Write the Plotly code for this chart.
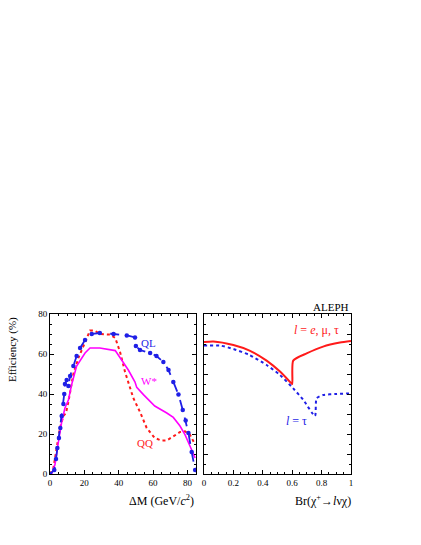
import plotly.graph_objects as go

# ---- Left panel data: efficiency vs Delta M ----
ql_dm = [0, 2.5, 3.5, 4.3, 5.2, 6.0, 6.8, 7.8, 8.3, 8.7, 9.7, 10.7, 11.7, 13.6, 15.5, 17.5, 20.4, 24.3,
         29, 37, 44.7, 49.5, 50, 52.4, 58.3, 62, 66, 69, 71.8, 74.8, 77.3, 79, 80.6, 82.5, 84.5]
ql_eff = [0, 2, 7.5, 13, 18, 23, 29, 35, 40, 45, 47, 44, 49, 54, 59, 63, 67, 70,
          70.5, 70, 69.3, 68.3, 64, 62, 60.5, 59, 56, 52, 46, 39.7, 32, 26.7, 20.5, 11, 2]

qq_dm = [0, 2, 3.9, 5.8, 7.8, 9.3, 10.7, 11.7, 13.6, 16.5, 19.4, 23.3, 26, 29, 35, 38, 40.8, 43.7,
         48.5, 52.4, 56.3, 61, 65, 68, 71.8, 75.7, 78.6, 81.5, 84.5]
qq_eff = [0, 3, 13, 23, 29, 30.5, 36, 41, 50, 58, 64, 71.7, 71.7, 70, 69.7, 68, 61, 51,
          38, 31, 23, 18, 16.7, 16.8, 18.8, 21, 21.3, 19.7, 14.7]

ws_dm = [1, 2.9, 4.9, 6.8, 8.7, 10.7, 12.6, 15.5, 20.4, 23.3, 29, 38, 41.7, 45.6, 49.5, 50.5, 54.4,
         61, 68, 71.8, 75.7, 78.6, 81.5, 84.5]
ws_eff = [0, 4.7, 16, 26, 33, 37, 44.7, 54, 60.5, 63, 63, 61.7, 57, 52, 46, 43.3, 39.7,
          34, 30.5, 28.3, 24, 19.7, 14, 8]

# ---- Right panel data: efficiency vs branching ratio ----
br_all = [0, 0.064, 0.2, 0.31, 0.426, 0.517, 0.59, 0.6, 0.607, 0.698, 0.81, 0.925, 1.0]
eff_all = [66, 66.3, 64.5, 61.7, 56.7, 51.2, 45.7, 45, 56.7, 60.3, 63.7, 65.7, 66.5]

br_tau = [0, 0.11, 0.2, 0.31, 0.426, 0.517, 0.607, 0.676, 0.755, 0.766, 0.81, 0.9, 1.0]
eff_tau = [64.2, 64.2, 62.5, 59.5, 54.5, 49.5, 42.8, 37, 29, 37.8, 39.5, 40, 40.3]

SERIF = "Liberation Serif, Times New Roman, serif"
BLUE = "#1f1fe6"
RED = "#ff1a1a"
MAG = "#ff00ff"

fig = go.Figure()
fig.add_trace(go.Scatter(x=qq_dm, y=qq_eff, mode="lines", xaxis="x", yaxis="y",
                         line=dict(color=RED, width=2, dash="dot")))
fig.add_trace(go.Scatter(x=ws_dm, y=ws_eff, mode="lines", xaxis="x", yaxis="y",
                         line=dict(color=MAG, width=1.6)))
fig.add_trace(go.Scatter(x=ql_dm, y=ql_eff, mode="lines+markers", xaxis="x", yaxis="y",
                         line=dict(color=BLUE, width=1.8, dash="dash"),
                         marker=dict(color=BLUE, size=4.5)))
fig.add_trace(go.Scatter(x=br_all, y=eff_all, mode="lines", xaxis="x2", yaxis="y2",
                         line=dict(color=RED, width=2, shape="spline", smoothing=0.6)))
fig.add_trace(go.Scatter(x=br_tau, y=eff_tau, mode="lines", xaxis="x2", yaxis="y2",
                         line=dict(color=BLUE, width=2, dash="dot", shape="spline", smoothing=0.6)))

axcommon = dict(showline=True, linecolor="black", linewidth=1, mirror="allticks",
                ticks="inside", ticklen=4, tickcolor="black", showgrid=False, zeroline=False,
                tickfont=dict(family=SERIF, size=9, color="black"))

fig.update_layout(
    width=421, height=545,
    margin=dict(l=50, r=70, t=314, b=71),
    paper_bgcolor="white", plot_bgcolor="white",
    showlegend=False,
    font=dict(family=SERIF, color="black"),
    xaxis=dict(domain=[0, 0.485], range=[0, 85], tick0=0, dtick=20, anchor="y",
               minor=dict(ticks="inside", ticklen=2, dtick=5, tickcolor="black"), **axcommon),
    yaxis=dict(domain=[0, 1], range=[0, 80], tick0=0, dtick=20, anchor="x",
               minor=dict(ticks="inside", ticklen=2, dtick=5, tickcolor="black"), **axcommon),
    xaxis2=dict(domain=[0.5116, 1], range=[0, 1], tick0=0, dtick=0.2, anchor="y2",
                minor=dict(ticks="inside", ticklen=2, dtick=0.05, tickcolor="black"), **axcommon),
    yaxis2=dict(domain=[0, 1], range=[0, 80], tick0=0, dtick=10, anchor="x2", showticklabels=False,
                minor=dict(ticks="inside", ticklen=2, dtick=5, tickcolor="black"), **axcommon),
)

ann = [
    dict(text="Efficiency (%)", textangle=-90, x=-0.126, y=0.775, xref="paper", yref="paper",
         xanchor="center", yanchor="middle", showarrow=False, font=dict(size=11)),
    dict(text="ΔM (GeV/<i>c</i><sup>2</sup>)", x=0.485, y=-0.165, xref="paper", yref="paper",
         xanchor="right", yanchor="middle", showarrow=False, font=dict(size=12)),
    dict(text="Br(χ<sup>+</sup>→<i>l</i>νχ)", x=1.005, y=-0.165, xref="paper", yref="paper",
         xanchor="right", yanchor="middle", showarrow=False, font=dict(size=12)),
    dict(text="ALEPH", x=1.0, y=1.044, xref="paper", yref="paper", xanchor="right",
         yanchor="middle", showarrow=False, font=dict(size=11)),
    dict(text="QL", x=52, y=65.5, xref="x", yref="y", xanchor="left", showarrow=False,
         font=dict(size=11, color=BLUE)),
    dict(text="W*", x=52, y=46.7, xref="x", yref="y", xanchor="left", showarrow=False,
         font=dict(size=11, color=MAG)),
    dict(text="QQ", x=49.6, y=15.5, xref="x", yref="y", xanchor="left", showarrow=False,
         font=dict(size=11, color=RED)),
    dict(text="<i>l</i> = <i>e</i>, μ, τ", x=0.765, y=72, xref="x2", yref="y2", showarrow=False,
         font=dict(size=12, color=RED)),
    dict(text="<i>l</i> = τ", x=0.626, y=26.5, xref="x2", yref="y2", showarrow=False,
         font=dict(size=12, color=BLUE)),
]
fig.update_layout(annotations=ann)

fig.write_html("out.html", config={"displayModeBar": False},
               post_script="document.body.style.margin='0';")
